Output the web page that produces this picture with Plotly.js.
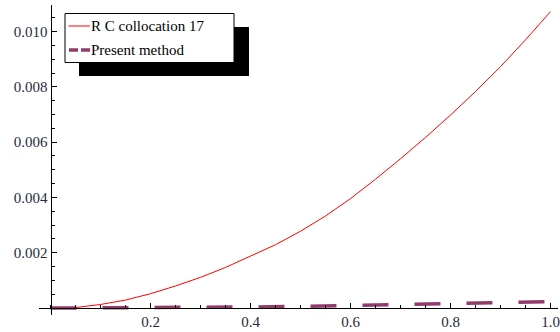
<!DOCTYPE html>
<html>
<head>
<meta charset="utf-8">
<script src="https://cdn.plot.ly/plotly-3.0.1.min.js"></script>
<style>html,body{margin:0;padding:0;background:#fff;}#chart{width:560px;height:332px;}</style>
</head>
<body>
<div id="chart"></div>
<script>
// Data
const xRC = [0,0.05,0.1,0.15,0.2,0.25,0.3,0.35,0.4,0.45,0.5,0.55,0.6,0.65,0.7,0.75,0.8,0.85,0.9,0.95,1.0];
const yRC = [0,0.00002,0.00013,0.00029,0.00052,0.00080,0.00111,0.00147,0.00188,0.00229,0.00278,0.00333,0.00396,0.00466,0.00540,0.00617,0.00698,0.00783,0.00873,0.00970,0.01072];
const xPM = [0,0.1,0.2,0.3,0.4,0.5,0.6,0.7,0.8,0.9,1.0];
const yPM = [0,0.000003,0.00001,0.00002,0.00004,0.00006,0.00009,0.00012,0.00015,0.00019,0.00023];
const seriesNames = ["R C collocation 17", "Present method"];
const xTickVals = [0.2,0.4,0.6,0.8,1.0];
const xTickText = ["0.2","0.4","0.6","0.8","1.0"];
const yTickVals = [0.002,0.004,0.006,0.008,0.010];
const yTickText = ["0.002","0.004","0.006","0.008","0.010"];

const L = 39, T = 5, W = 519, H = 310;
const xr = [-0.023, 1.015], yr = [-0.00025, 0.01096];
const px = p => (p - L) / W;
const py = p => 1 - (p - T) / H;

const redC = '#ff0000', purC = '#923a6b';
const fontSerif = 'Liberation Serif';

const traces = [
  {x: xRC, y: yRC, mode: 'lines', name: seriesNames[0], line: {color: redC, width: 1}},
  {x: xPM, y: yPM, mode: 'lines', name: seriesNames[1], line: {color: purC, width: 3.5, dash: '26px,26px'}}
];

const shapes = [
  {type:'rect', xref:'paper', yref:'paper', x0:px(79), x1:px(249), y0:py(27), y1:py(76), fillcolor:'#000', line:{width:0}},
  {type:'rect', xref:'paper', yref:'paper', x0:px(65), x1:px(234), y0:py(13.5), y1:py(62.5), fillcolor:'#fff', line:{color:'#000', width:1}},
  {type:'line', xref:'paper', yref:'paper', x0:px(68.5), x1:px(90), y0:py(26), y1:py(26), line:{color:redC, width:1}},
  {type:'line', xref:'paper', yref:'paper', x0:px(69), x1:px(90), y0:py(50), y1:py(50), line:{color:purC, width:3.5, dash:'9px,3px'}}
];

const annotations = [
  {xref:'paper', yref:'paper', x:px(89), y:py(26), text:seriesNames[0], showarrow:false, xanchor:'left', yanchor:'middle', font:{family:fontSerif, size:15, color:'#000'}},
  {xref:'paper', yref:'paper', x:px(89), y:py(49.5), text:seriesNames[1], showarrow:false, xanchor:'left', yanchor:'middle', font:{family:fontSerif, size:15, color:'#000'}}
];

const layout = {
  width: 560, height: 332,
  margin: {l: L, r: 560 - L - W, t: T, b: 332 - T - H, pad: 0},
  paper_bgcolor: '#fff', plot_bgcolor: '#fff',
  showlegend: false,
  xaxis: {
    range: xr, showgrid: false, zeroline: false,
    showline: true, linecolor: '#000', linewidth: 1,
    anchor: 'free', position: (0 - yr[0]) / (yr[1] - yr[0]),
    tickmode: 'array', tickvals: xTickVals, ticktext: xTickText,
    ticks: 'inside', ticklen: 5, tickcolor: '#000', tickwidth: 1,
    minor: {dtick: 0.05, tick0: 0, ticks: 'inside', ticklen: 3, tickcolor: '#000', tickwidth: 1, showgrid: false},
    tickfont: {family: fontSerif, size: 15, color: '#2a2a3a'}
  },
  yaxis: {
    range: yr, showgrid: false, zeroline: false,
    showline: true, linecolor: '#000', linewidth: 1,
    anchor: 'free', position: (0 - xr[0]) / (xr[1] - xr[0]),
    tickmode: 'array', tickvals: yTickVals, ticktext: yTickText,
    ticks: 'inside', ticklen: 5, tickcolor: '#000', tickwidth: 1,
    minor: {dtick: 0.0005, tick0: 0, ticks: 'inside', ticklen: 3, tickcolor: '#000', tickwidth: 1, showgrid: false},
    tickfont: {family: fontSerif, size: 15, color: '#2a2a3a'}
  },
  shapes: shapes,
  annotations: annotations
};

Plotly.newPlot('chart', traces, layout, {displayModeBar: false, staticPlot: true});
</script>
</body>
</html>
